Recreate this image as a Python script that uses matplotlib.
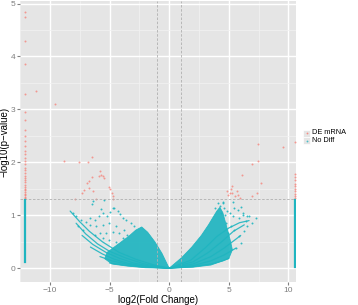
import numpy as np
import matplotlib.pyplot as plt
from matplotlib.patches import Rectangle, Polygon
from matplotlib.lines import Line2D

plt.rcParams['font.family'] = ['Liberation Sans', 'DejaVu Sans']

RED = '#F8766D'
TEAL = '#1FB5C0'

# differentially expressed points (log2FC, -log10 p)
de_x = [-8.79, -7.55, -6.45, -6.83, -6.5, -6.72, -6.88, -7.13, -7.27, -6.72, -7.93,
        -5.79, -5.7, -5.56, -5.42, -5.85, -5.07, -4.96, -4.82, -4.73, -4.69, -6.4, -6.1,
        -11.16, -9.56,
        7.44, 6.92, 6.07, 7.74, 5.26, 4.85, 4.95, 5.12, 5.3, 5.68, 5.79, 5.54, 7.39,
        6.97, 5.98, 5.16, 7.44, 9.55]
de_y = [2.03, 2.01, 2.11, 2.01, 1.73, 1.64, 1.61, 1.48, 1.43, 1.51, 1.30,
        1.83, 1.76, 1.74, 1.70, 1.74, 1.54, 1.49, 1.42, 1.37, 1.31, 1.46, 1.31,
        3.35, 3.11,
        2.03, 1.97, 1.76, 1.61, 1.56, 1.45, 1.39, 1.42, 1.43, 1.45, 1.39, 1.37, 1.42,
        1.36, 1.33, 1.50, 2.35, 2.29]

# capped fold changes stacked on the panel edges
left_cap_x = -12.12
left_cap_de = [4.85, 4.75, 4.3, 3.85, 3.3, 2.95, 2.8, 2.62, 2.5, 2.4, 2.3, 2.22, 2.15,
               2.08, 2.02, 1.96, 1.9, 1.85, 1.8, 1.75, 1.7, 1.66, 1.62, 1.58, 1.54, 1.5,
               1.47, 1.44, 1.41, 1.38, 1.35, 1.32]
left_cap_nd = (0.12, 1.29)
right_cap_x = 10.55
right_cap_de = [1.32, 1.36, 1.4, 1.45, 1.5, 1.55, 1.6, 1.66, 1.72, 1.78, 2.39]
right_cap_nd = (0.02, 1.29)

# scattered non-significant points
nd_x = [-8.04, -7.82, -7.35, -6.94, -6.60, -6.25, -5.89, -5.56, -5.23, -4.96, -4.60,
        -4.32, -4.13, -3.85, -3.58, -3.22, -2.94, -6.11, -5.56, -5.01, -4.46, -4.74,
        -5.29, -5.83, -4.18, -3.77, -6.25, -5.56, -5.01, -4.46, -3.91, -3.5, -6.66,
        -7.21, -7.63, -6.39, -5.7, -5.42, -6.45, -4.74,
        4.08, 4.49, 4.30, 4.58, 4.85, 5.12, 4.69, 5.39, 5.74, 5.87, 6.15, 6.42, 6.69,
        6.97, 7.24, 6.56, 6.24, 5.87, 5.60, 6.01, 5.18, 4.96, 5.45, 4.77, 4.36, 3.81,
        4.5, 5.32, 5.45, 6.0, 6.5, 6.15]
nd_y = [1.04, 0.98, 0.91, 0.88, 0.95, 0.91, 0.98, 1.04, 0.99, 1.07, 1.14,
        1.09, 1.03, 0.95, 0.91, 0.85, 0.80, 0.79, 0.82, 0.85, 0.79, 0.69,
        0.66, 0.66, 0.66, 0.72, 0.63, 0.57, 0.53, 0.50, 0.57, 0.63, 0.82,
        0.72, 0.79, 1.27, 1.12, 1.28, 1.22, 1.13,
        1.23, 1.26, 1.18, 1.13, 1.09, 1.05, 1.01, 0.98, 1.10, 0.94, 1.01, 0.90, 0.98,
        0.86, 0.94, 0.79, 0.70, 0.60, 0.38, 0.47, 0.79, 0.66, 0.72, 0.85, 1.04, 1.13,
        1.23, 1.26, 1.13, 1.16, 0.98, 1.04]

# strands of low-count genes
strands = [
    ([-8.3, -7.5, -6.7, -5.6, -4.2, -2.8, -1.4, 0], [1.08, 0.88, 0.70, 0.50, 0.30, 0.17, 0.07, 0]),
    ([-7.8, -7.0, -6.0, -5.0, -3.6, -2.2, -1.0, 0], [0.85, 0.65, 0.46, 0.32, 0.19, 0.09, 0.03, 0]),
    ([-7.3, -6.4, -5.3, -4.2, -3.0, -1.6, 0], [0.62, 0.45, 0.30, 0.19, 0.10, 0.04, 0]),
    ([-6.6, -5.6, -4.6, -3.4, -2.0, 0], [0.40, 0.27, 0.17, 0.09, 0.04, 0]),
    ([-5.8, -4.8, -3.6, -2.2, 0], [0.22, 0.14, 0.08, 0.03, 0]),
    ([-5.0, -3.8, -2.5, 0], [0.10, 0.06, 0.03, 0]),
    ([0, 2.0, 3.5, 4.5, 5.0], [0, 0.03, 0.08, 0.14, 0.19]),
    ([0, 2.0, 3.5, 4.6, 5.6], [0, 0.05, 0.14, 0.25, 0.38]),
    ([0, 2.0, 3.5, 4.6, 5.6, 6.0], [0, 0.08, 0.22, 0.38, 0.55, 0.62]),
    ([0, 2.0, 3.3, 4.4, 5.4, 6.3], [0, 0.12, 0.30, 0.50, 0.70, 0.82]),
    ([0, 1.8, 3.0, 4.0, 5.0, 5.9, 6.7], [0, 0.15, 0.38, 0.60, 0.76, 0.86, 0.90]),
]

# densely packed bodies of the two wings
left_wing_x = [0, -0.6, -1.2, -1.8, -2.3, -2.8, -3.4, -4.0, -4.6, -5.2, -5.4, -4.8, -3.5, -2.0]
left_wing_y = [0, 0.28, 0.50, 0.68, 0.78, 0.72, 0.60, 0.50, 0.40, 0.30, 0.18, 0.08, 0.04, 0.01]
right_wing_x = [0, 1.05, 1.9, 2.7, 3.3, 3.7, 4.0, 4.25, 4.5, 4.8, 5.1, 5.3, 5.0, 3.5, 2.0]
right_wing_y = [0, 0.20, 0.40, 0.62, 0.82, 0.97, 1.08, 1.15, 1.05, 0.80, 0.55, 0.35, 0.18, 0.06, 0.02]

labels = ['DE mRNA', 'No Diff']

fig = plt.figure(figsize=(3.58, 3.05), dpi=100)
ax = fig.add_axes([0.056, 0.0754, 0.771, 0.9216])
ax.set_facecolor('#E5E5E5')

ax.set_xlim(-12.17, 10.64)
ax.set_ylim(-0.26, 5.05)
ax.set_xticks([-10, -5, 0, 5, 10])
ax.set_yticks([0, 1, 2, 3, 4, 5])
ax.set_xticks([-12.5, -7.5, -2.5, 2.5, 7.5], minor=True)
ax.set_yticks(np.arange(-0.5, 5.1, 1.0)[1:], minor=True)
ax.grid(which='major', color='white', lw=1.0)
ax.grid(which='minor', color='#F2F2F2', lw=0.5)
ax.set_axisbelow(True)
for s in ax.spines.values():
    s.set_visible(False)
ax.tick_params(which='major', length=2.5, color='#808080', labelsize=6, labelcolor='#7F7F7F', pad=0.8)
ax.tick_params(which='minor', length=0)

ax.axvline(-1, color='#B0B0B0', lw=0.6, ls=(0, (3, 2)))
ax.axvline(1, color='#B0B0B0', lw=0.6, ls=(0, (3, 2)))
ax.axhline(-np.log10(0.05), color='#B0B0B0', lw=0.6, ls=(0, (3, 2)))

for wx, wy in [(left_wing_x, left_wing_y), (right_wing_x, right_wing_y)]:
    ax.add_patch(Polygon(list(zip(wx, wy)), closed=True, fc=TEAL, ec=TEAL, lw=0.6, alpha=0.92))
for sx, sy in strands:
    ax.plot(sx, sy, color=TEAL, lw=0.9, alpha=0.9, solid_capstyle='round')

ax.scatter(nd_x, nd_y, s=2.0, color=TEAL, lw=0, alpha=0.9)
ax.plot([left_cap_x, left_cap_x], left_cap_nd, color=TEAL, lw=1.6)
ax.plot([right_cap_x, right_cap_x], right_cap_nd, color=TEAL, lw=1.6)

ax.scatter(de_x, de_y, s=2.0, color=RED, lw=0, alpha=0.7)
ax.scatter([left_cap_x] * len(left_cap_de), left_cap_de, s=2.0, color=RED, lw=0, alpha=0.7)
ax.scatter([right_cap_x] * len(right_cap_de), right_cap_de, s=2.0, color=RED, lw=0, alpha=0.7)

ax.set_xlabel('log2(Fold Change)', fontsize=7, va='center')
ax.xaxis.set_label_coords(0.5, -0.064)
ax.set_ylabel('\u2212log10(p\u2212value)', fontsize=7, labelpad=1)

# legend drawn by hand, ggplot style
for i, (lab, col) in enumerate(zip(labels, [RED, TEAL])):
    yc = 1 - (133 + 7.5 * i) / 305
    fig.add_artist(Rectangle((303 / 358, yc - 3.5 / 305), 7 / 358, 7 / 305,
                             transform=fig.transFigure, fc='#E5E5E5', ec='white', lw=0.5))
    fig.add_artist(Line2D([306.5 / 358], [yc], marker='o', ms=1.3, color=col, mew=0,
                          alpha=0.8, transform=fig.transFigure))
    fig.text(312 / 358, yc, lab, fontsize=5.3, va='center', ha='left')

fig.savefig('out.png', dpi=100)
